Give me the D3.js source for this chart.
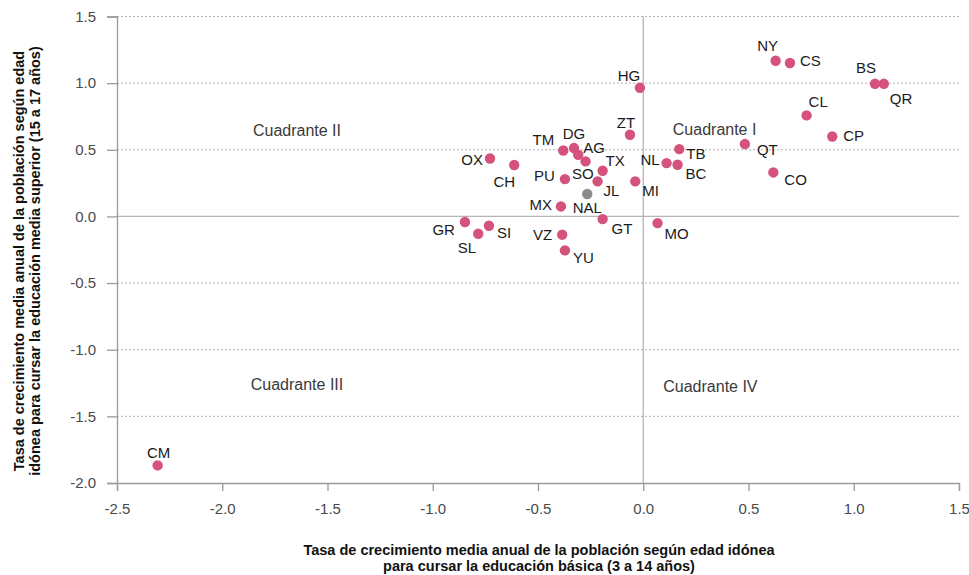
<!DOCTYPE html>
<html>
<head>
<meta charset="utf-8">
<script src="https://cdn.jsdelivr.net/npm/d3@7/dist/d3.min.js"></script>
<style>
  html, body { margin: 0; padding: 0; background: #fff; }
  svg { display: block; font-family: "Liberation Sans", Arial, Helvetica, sans-serif; }
</style>
</head>
<body>
<svg id="chart" width="969" height="575"></svg>
<script>
// ---- Data ----
const states = ["CM","GR","SL","SI","OX","CH","TM","DG","AG","SO","TX","PU","JL","MX","VZ","YU","GT","MI","ZT","HG","NL","TB","BC","MO","NY","CS","BS","QR","CL","CP","QT","CO","NAL"];
const xValues = [-2.307,-0.847,-0.784,-0.733,-0.728,-0.613,-0.380,-0.329,-0.309,-0.274,-0.193,-0.372,-0.217,-0.391,-0.385,-0.372,-0.193,-0.038,-0.063,-0.016,0.111,0.171,0.163,0.068,0.629,0.697,1.101,1.143,0.776,0.898,0.483,0.618,-0.266];
const yValues = [-1.868,-0.042,-0.130,-0.070,0.435,0.386,0.495,0.513,0.463,0.413,0.343,0.280,0.263,0.075,-0.137,-0.255,-0.020,0.263,0.613,0.965,0.400,0.505,0.388,-0.050,1.168,1.151,0.995,0.995,0.758,0.600,0.543,0.330,0.168];
const xTicks = [-2.5,-2.0,-1.5,-1.0,-0.5,0.0,0.5,1.0,1.5];
const yTicks = [-2.0,-1.5,-1.0,-0.5,0.0,0.5,1.0,1.5];
const quadrantNames = ["Cuadrante II","Cuadrante I","Cuadrante III","Cuadrante IV"];
const quadrantX = [-1.645,0.339,-1.645,0.319];
const quadrantY = [0.60,0.613,-1.30,-1.32];
const xTitle = ["Tasa de crecimiento media anual de la población según edad idónea","para cursar la educación básica (3 a 14 años)"];
const yTitle = ["Tasa de crecimiento media anual de la población según edad","idónea para cursar la educación media superior (15 a 17 años)"];

// ---- Label placement (dx, dy, anchor) ----
const labelPos = {
  CM:[1,-7,"middle"], GR:[-10,13,"end"], SL:[-2,19,"end"], SI:[8,12,"start"],
  OX:[-7,7,"end"], CH:[1,22,"end"], TM:[-9,-5,"end"], DG:[0,-9,"middle"],
  AG:[5,-2,"start"], SO:[8,18,"end"], TX:[3,-5,"start"], PU:[-10,2,"end"],
  JL:[6,15,"start"], MX:[-9,4,"end"], VZ:[-10,5,"end"], YU:[8,13,"start"],
  GT:[9,15,"start"], MI:[7,15,"start"], ZT:[-4,-7,"middle"], HG:[-11,-7,"middle"],
  NL:[-7,2,"end"], TB:[7,10,"start"], BC:[8,14,"start"], MO:[7,16,"start"],
  NY:[-8,-10,"middle"], CS:[10,3,"start"], BS:[-9,-11,"middle"], QR:[6,20,"start"],
  CL:[2,-8,"start"], CP:[11,5,"start"], QT:[12,11,"start"], CO:[11,13,"start"],
  NAL:[0,19,"middle"]
};

const svg = d3.select("#chart");
const x = d3.scaleLinear().domain([-2.5, 1.5]).range([117, 959]);
const y = d3.scaleLinear().domain([-2.0, 1.5]).range([483, 16.5]);

const axisColor = "#9a9a9a";

// gridlines (dotted), excluding 0
svg.append("g").selectAll("line")
  .data(yTicks.filter(v => v !== 0 && v !== -2.0))
  .join("line")
  .attr("x1", x(-2.5)).attr("x2", x(1.5))
  .attr("y1", d => y(d)).attr("y2", d => y(d))
  .attr("stroke", "#b0b0b0").attr("stroke-width", 1)
  .attr("stroke-dasharray", "2,2");

// zero lines
svg.append("line")
  .attr("x1", x(-2.5)).attr("x2", x(1.5))
  .attr("y1", y(0)).attr("y2", y(0))
  .attr("stroke", "#b5b5b5").attr("stroke-width", 1.3);
svg.append("line")
  .attr("x1", x(0)).attr("x2", x(0))
  .attr("y1", y(1.5)).attr("y2", y(-2.0))
  .attr("stroke", "#b5b5b5").attr("stroke-width", 1.3);

// axes
const xAxis = d3.axisBottom(x).tickValues(xTicks).tickFormat(d3.format(".1f")).tickSize(8).tickPadding(12);
const yAxis = d3.axisLeft(y).tickValues(yTicks).tickFormat(d3.format(".1f")).tickSize(10).tickPadding(11);

const gx = svg.append("g").attr("transform", `translate(0,${y(-2.0)})`).call(xAxis);
const gy = svg.append("g").attr("transform", `translate(${x(-2.5)},0)`).call(yAxis);
[gx, gy].forEach(g => {
  g.select(".domain").attr("stroke", axisColor).attr("stroke-width", 1.3);
  g.selectAll(".tick line").attr("stroke", axisColor).attr("stroke-width", 1.3);
  g.selectAll(".tick text").attr("fill", "#4a4a4a").attr("font-size", 15)
    .attr("font-family", "'Liberation Sans', Arial, sans-serif")
    .text(d => d3.format(".1f")(d).replace("−", "-"));
});

// quadrant labels
svg.append("g").selectAll("text")
  .data(quadrantNames)
  .join("text")
  .attr("x", (d, i) => x(quadrantX[i]))
  .attr("y", (d, i) => y(quadrantY[i]))
  .attr("text-anchor", "middle")
  .attr("font-size", 16)
  .attr("fill", "#3a3a3a")
  .text(d => d);

// points
const pts = states.map((s, i) => ({ s, x: xValues[i], y: yValues[i] }));
svg.append("g").selectAll("circle")
  .data(pts)
  .join("circle")
  .attr("cx", d => x(d.x))
  .attr("cy", d => y(d.y))
  .attr("r", 5.2)
  .attr("fill", d => d.s === "NAL" ? "#8c8c8c" : "#d5527c");

// point labels
svg.append("g").selectAll("text")
  .data(pts)
  .join("text")
  .attr("x", d => x(d.x) + labelPos[d.s][0])
  .attr("y", d => y(d.y) + labelPos[d.s][1])
  .attr("text-anchor", d => labelPos[d.s][2])
  .attr("font-size", 15)
  .attr("fill", "#1a1a1a")
  .text(d => d.s);

// x title (two lines)
svg.append("g").selectAll("text")
  .data(xTitle)
  .join("text")
  .attr("x", 539)
  .attr("y", (d, i) => 554.5 + i * 16.3)
  .attr("text-anchor", "middle")
  .attr("font-size", 14.5)
  .attr("font-weight", "bold")
  .attr("fill", "#111")
  .text(d => d);

// y title (two lines)
svg.append("g").attr("transform", "translate(0,261) rotate(-90)")
  .selectAll("text")
  .data(yTitle)
  .join("text")
  .attr("x", 0)
  .attr("y", (d, i) => 24 + i * 16.3)
  .attr("text-anchor", "middle")
  .attr("font-size", 14.5)
  .attr("font-weight", "bold")
  .attr("fill", "#111")
  .text(d => d);
</script>
</body>
</html>
